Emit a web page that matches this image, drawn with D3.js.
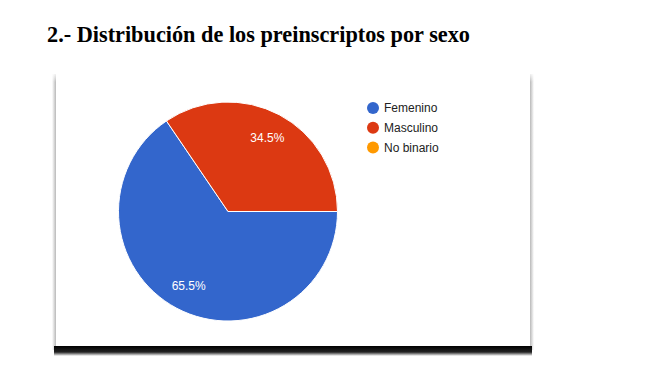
<!DOCTYPE html>
<html><head><meta charset="utf-8">
<script src="https://cdn.jsdelivr.net/npm/d3@7"></script>
<style>html,body{margin:0;padding:0;background:#fff;}svg{display:block;}</style>
</head><body>
<svg id="c" width="650" height="372"></svg>
<script>
const title = "2.- Distribución de los preinscriptos por sexo";
const categories = ["Femenino", "Masculino", "No binario"];
const values = [65.5, 34.5, 0];
const colors = ["#3366cc", "#dc3912", "#ff9900"];

const svg = d3.select("#c");
const defs = svg.append("defs");

// title
svg.append("text").attr("x", 47).attr("y", 42)
  .attr("font-family", "Liberation Serif, Times New Roman, serif")
  .attr("font-weight", "bold").attr("font-size", 22.5).attr("fill", "#000")
  .attr("textLength", 423).attr("lengthAdjust", "spacingAndGlyphs")
  .text(title);

// card shadows
const gL = defs.append("linearGradient").attr("id", "gl").attr("x1", 0).attr("x2", 1);
gL.append("stop").attr("offset", 0).attr("stop-color", "#fff");
gL.append("stop").attr("offset", 1).attr("stop-color", "#b8b8b8");
const gR = defs.append("linearGradient").attr("id", "gr").attr("x1", 0).attr("x2", 1);
gR.append("stop").attr("offset", 0).attr("stop-color", "#b8b8b8");
gR.append("stop").attr("offset", 1).attr("stop-color", "#fff");
const gB = defs.append("linearGradient").attr("id", "gb").attr("x1", 0).attr("x2", 0).attr("y1", 0).attr("y2", 1);
gB.append("stop").attr("offset", 0).attr("stop-color", "#000");
gB.append("stop").attr("offset", 0.6).attr("stop-color", "#222");
gB.append("stop").attr("offset", 1).attr("stop-color", "#fff");
const gT = defs.append("linearGradient").attr("id", "gt").attr("x1", 0).attr("x2", 0).attr("y1", 0).attr("y2", 1);
gT.append("stop").attr("offset", 0).attr("stop-color", "#fff");
gT.append("stop").attr("offset", 1).attr("stop-color", "#fff").attr("stop-opacity", 0);

svg.append("rect").attr("x", 52).attr("y", 74).attr("width", 4).attr("height", 276).attr("fill", "url(#gl)");
svg.append("rect").attr("x", 530).attr("y", 74).attr("width", 4).attr("height", 276).attr("fill", "url(#gr)");
svg.append("rect").attr("x", 54).attr("y", 346).attr("width", 478).attr("height", 10).attr("fill", "url(#gb)");
svg.append("rect").attr("x", 56).attr("y", 74).attr("width", 474).attr("height", 272).attr("fill", "#fff");
svg.append("rect").attr("x", 50).attr("y", 72).attr("width", 486).attr("height", 10).attr("fill", "url(#gt)");

// pie
const cx = 228, cy = 211.5, r = 109.5;
const pie = d3.pie().sort(null).value(d => d)
  .startAngle(Math.PI / 2).endAngle(Math.PI / 2 + 2 * Math.PI);
const arcs = pie(values);
const arc = d3.arc().innerRadius(0).outerRadius(r);
const labelArc = d3.arc().innerRadius(84).outerRadius(84);
const g = svg.append("g").attr("transform", `translate(${cx},${cy})`);
g.selectAll("path").data(arcs).join("path")
  .attr("d", arc).attr("fill", (d, i) => colors[i])
  .attr("stroke", "#fff").attr("stroke-width", d => d.value > 0 ? 1 : 0);
g.selectAll("text").data(arcs.filter(d => d.value > 0)).join("text")
  .attr("transform", d => `translate(${labelArc.centroid(d)})`)
  .attr("text-anchor", "middle").attr("dy", "0.36em")
  .attr("font-family", "Liberation Sans, Arial, sans-serif").attr("font-size", 12)
  .attr("fill", "#fff")
  .text(d => d.value.toFixed(1) + "%");

// legend
const leg = svg.append("g");
const ly = d3.scalePoint().domain(categories).range([108, 147.5]);
categories.forEach((c, i) => {
  leg.append("circle").attr("cx", 373).attr("cy", ly(c)).attr("r", 6).attr("fill", colors[i]);
  leg.append("text").attr("x", 384).attr("y", ly(c)).attr("dy", "0.36em")
    .attr("font-family", "Liberation Sans, Arial, sans-serif").attr("font-size", 12)
    .attr("fill", "#222").text(c);
});
</script>
</body></html>
